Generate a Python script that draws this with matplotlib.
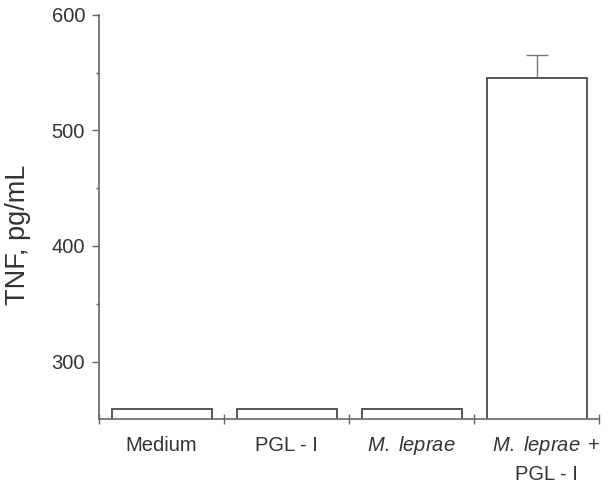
import matplotlib
matplotlib.use("Agg")
import matplotlib.pyplot as plt

# 读图得到的数据
categories = ["Medium", "PGL - I", r"$\mathit{M.\ leprae}$", r"$\mathit{M.\ leprae}\,$ +"]
second_line = ["", "", "", "PGL - I"]
tnf = [259, 259, 258.5, 545]
tnf_err = [0, 0, 0, 20]

plt.rcParams["font.family"] = ["Liberation Sans", "DejaVu Sans"]
plt.rcParams["mathtext.fontset"] = "custom"
plt.rcParams["mathtext.rm"] = "Liberation Sans"
plt.rcParams["mathtext.it"] = "Liberation Sans:italic"

line_col = "#4a4a4a"
text_col = "#333333"

fig = plt.figure(figsize=(6.09, 4.87), dpi=100)
ax = fig.add_axes([99 / 609, 1 - 419.3 / 487, 500 / 609, (419.3 - 14.7) / 487])

x = list(range(len(categories)))
ax.bar(x, tnf, width=0.8, bottom=0, color="white", edgecolor=line_col, linewidth=1.3, zorder=2)
ax.errorbar(x[3], tnf[3], yerr=[[0], [tnf_err[3]]], fmt="none", ecolor="#777777",
            elinewidth=1, capsize=8, capthick=1, zorder=1)

ax.set_xlim(-0.5, 3.5)
ax.set_ylim(250, 600)

# 去掉上、右边框
ax.spines["top"].set_visible(False)
ax.spines["right"].set_visible(False)
for s in ["left", "bottom"]:
    ax.spines[s].set_color("#666666")
    ax.spines[s].set_linewidth(1.2)
    ax.spines[s].set_zorder(3)

ax.set_yticks([300, 400, 500, 600])
ax.set_yticks([350, 450, 550], minor=True)
ax.tick_params(axis="y", which="major", length=5, width=1, color="#666666",
               labelsize=14.5, labelcolor=text_col, pad=5)
ax.tick_params(axis="y", which="minor", length=2.5, width=1, color="#666666")

ax.set_xticks(x)
ax.set_xticklabels([])
ax.set_xticks([-0.5, 0.5, 1.5, 2.5, 3.5], minor=True)
ax.tick_params(axis="x", which="major", length=0)
ax.tick_params(axis="x", which="minor", length=7, width=1, direction="inout", color="#666666")

# 类别标签，按基线对齐
offsets = [0, 0, 0, 0.08]
for xi, lab, lab2, off in zip(x, categories, second_line, offsets):
    ax.annotate(lab, (xi + off, 0), xycoords=("data", "axes fraction"),
                xytext=(0, -22.6), textcoords="offset points", ha="center", va="baseline",
                fontsize=14.5, color=text_col)
    if lab2:
        ax.annotate(lab2, (xi + off, 0), xycoords=("data", "axes fraction"),
                    xytext=(0, -43.5), textcoords="offset points", ha="center", va="baseline",
                    fontsize=14.5, color=text_col)

fig.text(18 / 609, 1 - 235 / 487, "TNF, pg/mL", rotation=90, ha="center", va="center",
         fontsize=19.5, color=text_col)

fig.savefig("out.png", dpi=100)
